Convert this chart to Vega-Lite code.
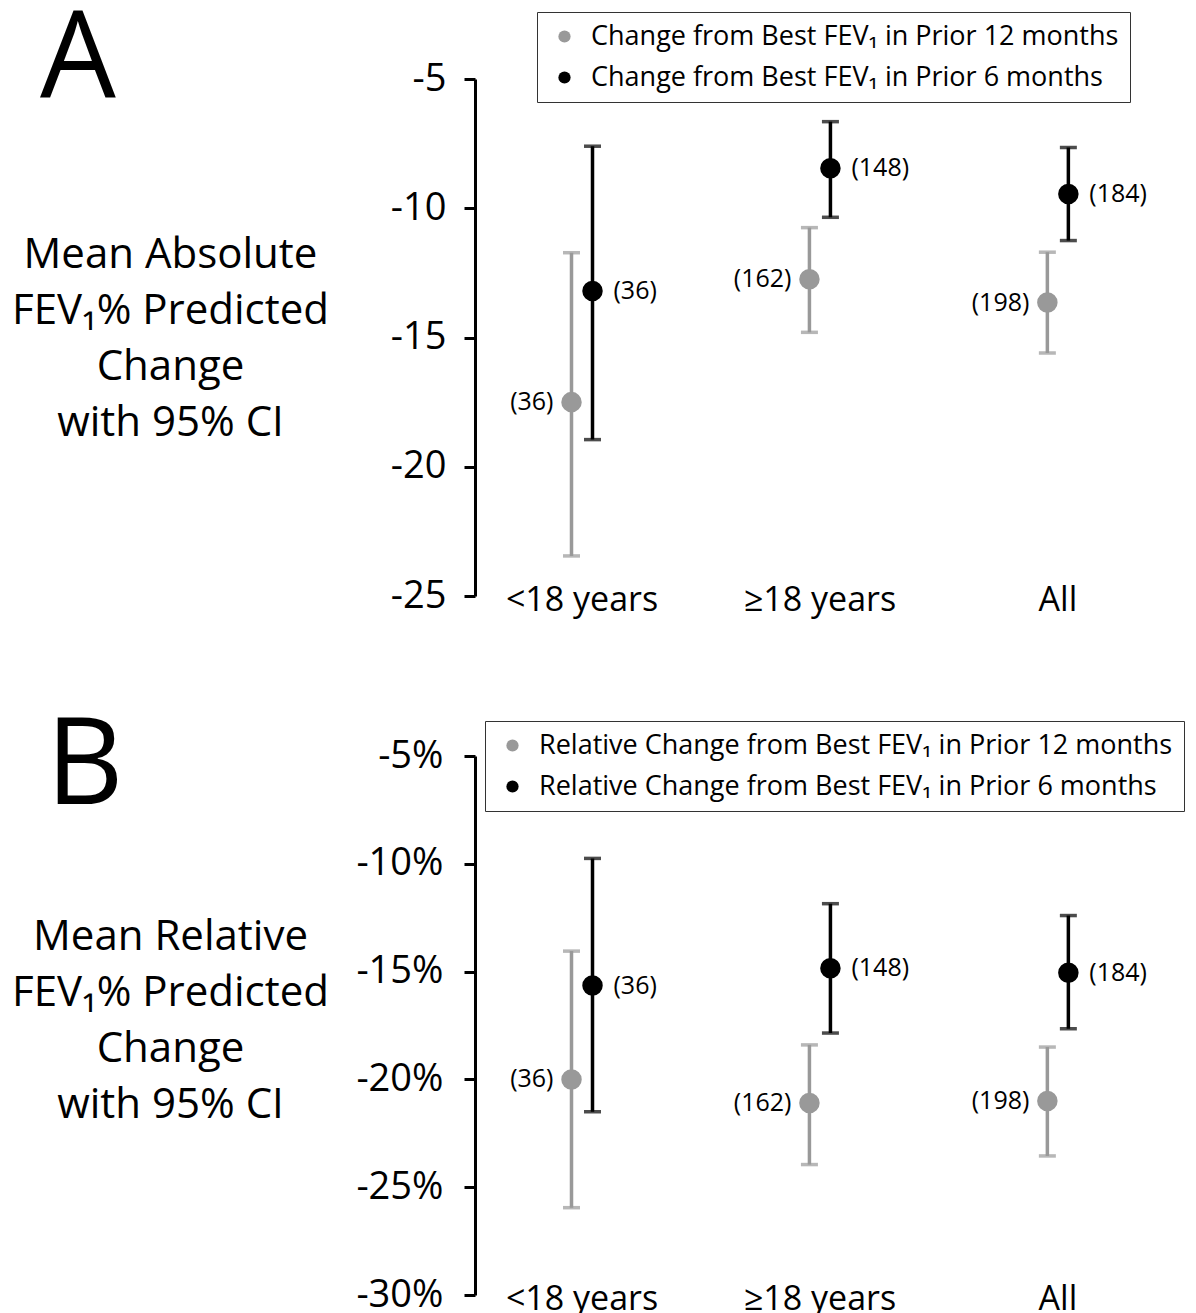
{
  "$schema": "https://vega.github.io/schema/vega-lite/v6.json",
  "padding": {"left": 11, "top": 0, "right": 0, "bottom": 0},
  "background": "white",
  "config": {"view": {"stroke": null}, "font": "Open Sans", "title": {"font": "Open Sans"}, "axis": {"labelFont": "Open Sans", "titleFont": "Open Sans"}, "legend": {"labelFont": "Open Sans"}},
  "datasets": {
    "a": [
      {"group": "<18 years", "series": "Change from Best FEV₁ in Prior 12 months", "mean": -17.5, "lo": -23.45, "hi": -11.72, "nlabel": "(36)"},
      {"group": "<18 years", "series": "Change from Best FEV₁ in Prior 6 months", "mean": -13.2, "lo": -18.95, "hi": -7.6, "nlabel": "(36)"},
      {"group": "≥18 years", "series": "Change from Best FEV₁ in Prior 12 months", "mean": -12.75, "lo": -14.8, "hi": -10.75, "nlabel": "(162)"},
      {"group": "≥18 years", "series": "Change from Best FEV₁ in Prior 6 months", "mean": -8.45, "lo": -10.35, "hi": -6.65, "nlabel": "(148)"},
      {"group": "All", "series": "Change from Best FEV₁ in Prior 12 months", "mean": -13.65, "lo": -15.6, "hi": -11.7, "nlabel": "(198)"},
      {"group": "All", "series": "Change from Best FEV₁ in Prior 6 months", "mean": -9.45, "lo": -11.25, "hi": -7.65, "nlabel": "(184)"}
    ],
    "b": [
      {"group": "<18 years", "series": "Relative Change from Best FEV₁ in Prior 12 months", "mean": -20.0, "lo": -25.95, "hi": -14.05, "nlabel": "(36)"},
      {"group": "<18 years", "series": "Relative Change from Best FEV₁ in Prior 6 months", "mean": -15.65, "lo": -21.5, "hi": -9.75, "nlabel": "(36)"},
      {"group": "≥18 years", "series": "Relative Change from Best FEV₁ in Prior 12 months", "mean": -21.1, "lo": -23.95, "hi": -18.4, "nlabel": "(162)"},
      {"group": "≥18 years", "series": "Relative Change from Best FEV₁ in Prior 6 months", "mean": -14.85, "lo": -17.85, "hi": -11.85, "nlabel": "(148)"},
      {"group": "All", "series": "Relative Change from Best FEV₁ in Prior 12 months", "mean": -21.0, "lo": -23.55, "hi": -18.5, "nlabel": "(198)"},
      {"group": "All", "series": "Relative Change from Best FEV₁ in Prior 6 months", "mean": -15.05, "lo": -17.65, "hi": -12.4, "nlabel": "(184)"}
    ]
  },
  "spacing": 90,
  "resolve": {"scale": {"color": "independent", "x": "independent", "y": "independent", "xOffset": "independent"}, "legend": {"color": "independent"}},
  "vconcat": [
    {
      "width": 690,
      "height": 517,
      "title": {"text": "A", "fontSize": 120, "fontWeight": "normal", "color": "black", "anchor": "start", "frame": "group", "dx": -435, "offset": -110},
      "data": {"name": "a"},
      "encoding": {
        "x": {"field": "group", "type": "nominal", "sort": ["<18 years", "≥18 years", "All"], "scale": {"paddingInner": 0.1, "paddingOuter": 0},
          "axis": {"title": null, "orient": "bottom", "domain": false, "ticks": false, "tickSize": 0, "labelAngle": 0, "labelFontSize": 34, "labelPadding": 4, "labelBaseline": "middle", "labelColor": "black"}},
        "xOffset": {"field": "series", "type": "nominal", "sort": ["Change from Best FEV₁ in Prior 12 months", "Change from Best FEV₁ in Prior 6 months"], "scale": {"range": [86, 128], "paddingInner": 0, "paddingOuter": 0}}
      },
      "layer": [
        {
          "mark": {"type": "rule", "strokeWidth": 3.5},
          "encoding": {
            "y": {"field": "lo", "type": "quantitative", "scale": {"domain": [-25, -5], "nice": false, "zero": false},
              "axis": {"title": ["Mean Absolute", "FEV₁% Predicted", "Change", "with 95% CI"], "titleAngle": 0, "titleAlign": "center", "titleBaseline": "middle", "titleX": -305, "titleY": 175, "titleFontSize": 42, "titleFontWeight": "normal", "titleLineHeight": 56, "titleColor": "black",
                "values": [-25, -20, -15, -10, -5], "labelExpr": "datum.value < 0 ? '-' + abs(datum.value) : '' + datum.value", "grid": false, "domainColor": "black", "domainWidth": 3, "tickColor": "black", "tickWidth": 3, "tickSize": 11, "labelFontSize": 38, "labelPadding": 18, "labelColor": "black"}},
            "y2": {"field": "hi"},
            "color": {"condition": {"test": "indexof(datum.series, '12 months') >= 0", "value": "#999999"}, "value": "#000000"}
          }
        },
        {
          "mark": {"type": "tick", "thickness": 3.5, "size": 17, "orient": "horizontal"},
          "encoding": {
            "y": {"field": "lo", "type": "quantitative"},
            "color": {"condition": {"test": "indexof(datum.series, '12 months') >= 0", "value": "#999999"}, "value": "#000000"}
          }
        },
        {
          "mark": {"type": "tick", "thickness": 3.5, "size": 17, "orient": "horizontal"},
          "encoding": {
            "y": {"field": "hi", "type": "quantitative"},
            "color": {"condition": {"test": "indexof(datum.series, '12 months') >= 0", "value": "#999999"}, "value": "#000000"}
          }
        },
        {
          "mark": {"type": "circle", "size": 420, "opacity": 1},
          "encoding": {
            "y": {"field": "mean", "type": "quantitative"},
            "color": {"field": "series", "type": "nominal", "scale": {"domain": ["Change from Best FEV₁ in Prior 12 months", "Change from Best FEV₁ in Prior 6 months"], "range": ["#999999", "#000000"]},
              "legend": {"orient": "none", "legendX": 62, "legendY": -67, "title": null, "strokeColor": "#333333", "padding": 11, "labelFontSize": 27, "labelColor": "black", "symbolSize": 150, "symbolType": "circle", "symbolOffset": 3, "rowPadding": 13, "labelLimit": 900, "labelOffset": 13, "symbolStrokeWidth": 0,
                "encode": {"legend": {"update": {"strokeWidth": {"value": 1.5}}}}}}
          }
        },
        {
          "transform": [{"filter": "indexof(datum.series, '12 months') >= 0"}],
          "mark": {"type": "text", "align": "right", "baseline": "middle", "dx": -18, "fontSize": 25, "color": "black"},
          "encoding": {"y": {"field": "mean", "type": "quantitative"}, "text": {"field": "nlabel"}}
        },
        {
          "transform": [{"filter": "indexof(datum.series, '6 months') >= 0"}],
          "mark": {"type": "text", "align": "left", "baseline": "middle", "dx": 21, "fontSize": 25, "color": "black"},
          "encoding": {"y": {"field": "mean", "type": "quantitative"}, "text": {"field": "nlabel"}}
        }
      ]
    },
    {
      "width": 690,
      "height": 539,
      "title": {"text": "B", "fontSize": 120, "fontWeight": "normal", "color": "black", "anchor": "start", "frame": "group", "dx": -429, "offset": -108},
      "data": {"name": "b"},
      "encoding": {
        "x": {"field": "group", "type": "nominal", "sort": ["<18 years", "≥18 years", "All"], "scale": {"paddingInner": 0.1, "paddingOuter": 0},
          "axis": {"title": null, "orient": "bottom", "domain": false, "ticks": false, "tickSize": 0, "labelAngle": 0, "labelFontSize": 34, "labelPadding": 4, "labelBaseline": "middle", "labelColor": "black"}},
        "xOffset": {"field": "series", "type": "nominal", "sort": ["Relative Change from Best FEV₁ in Prior 12 months", "Relative Change from Best FEV₁ in Prior 6 months"], "scale": {"range": [86, 128], "paddingInner": 0, "paddingOuter": 0}}
      },
      "layer": [
        {
          "mark": {"type": "rule", "strokeWidth": 3.5},
          "encoding": {
            "y": {"field": "lo", "type": "quantitative", "scale": {"domain": [-30, -5], "nice": false, "zero": false},
              "axis": {"title": ["Mean Relative", "FEV₁% Predicted", "Change", "with 95% CI"], "titleAngle": 0, "titleAlign": "center", "titleBaseline": "middle", "titleX": -305, "titleY": 180, "titleFontSize": 42, "titleFontWeight": "normal", "titleLineHeight": 56, "titleColor": "black",
                "values": [-30, -25, -20, -15, -10, -5], "labelExpr": "(datum.value < 0 ? '-' + abs(datum.value) : '' + datum.value) + '%'", "grid": false, "domainColor": "black", "domainWidth": 3, "tickColor": "black", "tickWidth": 3, "tickSize": 11, "labelFontSize": 38, "labelPadding": 21, "labelColor": "black"}},
            "y2": {"field": "hi"},
            "color": {"condition": {"test": "indexof(datum.series, '12 months') >= 0", "value": "#999999"}, "value": "#000000"}
          }
        },
        {
          "mark": {"type": "tick", "thickness": 3.5, "size": 17, "orient": "horizontal"},
          "encoding": {
            "y": {"field": "lo", "type": "quantitative"},
            "color": {"condition": {"test": "indexof(datum.series, '12 months') >= 0", "value": "#999999"}, "value": "#000000"}
          }
        },
        {
          "mark": {"type": "tick", "thickness": 3.5, "size": 17, "orient": "horizontal"},
          "encoding": {
            "y": {"field": "hi", "type": "quantitative"},
            "color": {"condition": {"test": "indexof(datum.series, '12 months') >= 0", "value": "#999999"}, "value": "#000000"}
          }
        },
        {
          "mark": {"type": "circle", "size": 420, "opacity": 1},
          "encoding": {
            "y": {"field": "mean", "type": "quantitative"},
            "color": {"field": "series", "type": "nominal", "scale": {"domain": ["Relative Change from Best FEV₁ in Prior 12 months", "Relative Change from Best FEV₁ in Prior 6 months"], "range": ["#999999", "#000000"]},
              "legend": {"orient": "none", "legendX": 10, "legendY": -35, "title": null, "strokeColor": "#333333", "padding": 11, "labelFontSize": 27, "labelColor": "black", "symbolSize": 150, "symbolType": "circle", "symbolOffset": 3, "rowPadding": 13, "labelLimit": 900, "labelOffset": 13, "symbolStrokeWidth": 0,
                "encode": {"legend": {"update": {"strokeWidth": {"value": 1.5}}}}}}
          }
        },
        {
          "transform": [{"filter": "indexof(datum.series, '12 months') >= 0"}],
          "mark": {"type": "text", "align": "right", "baseline": "middle", "dx": -18, "fontSize": 25, "color": "black"},
          "encoding": {"y": {"field": "mean", "type": "quantitative"}, "text": {"field": "nlabel"}}
        },
        {
          "transform": [{"filter": "indexof(datum.series, '6 months') >= 0"}],
          "mark": {"type": "text", "align": "left", "baseline": "middle", "dx": 21, "fontSize": 25, "color": "black"},
          "encoding": {"y": {"field": "mean", "type": "quantitative"}, "text": {"field": "nlabel"}}
        }
      ]
    }
  ]
}
